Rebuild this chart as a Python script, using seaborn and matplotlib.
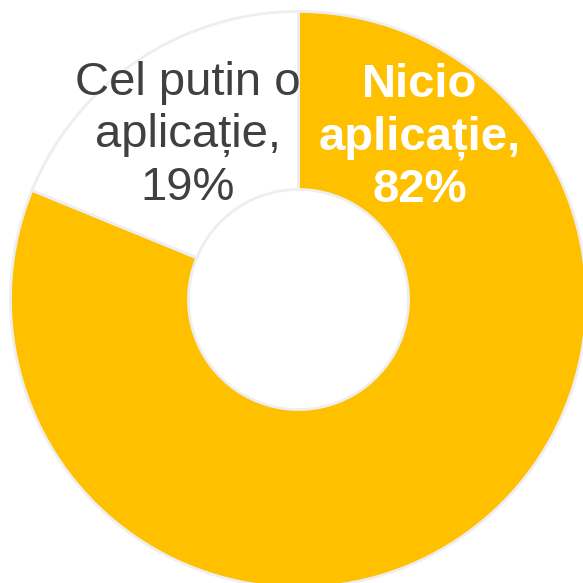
import matplotlib
matplotlib.use("Agg")
import matplotlib.pyplot as plt
import seaborn as sns

categories = ["Nicio\naplicație", "Cel putin o\naplicație"]
values = [82, 19]
colors = ["#FFC000", "#FFFFFF"]
label_colors = ["#FFFFFF", "#404040"]
label_weights = ["bold", "normal"]

sns.set_theme(style="white")
plt.rcParams["font.family"] = ["Liberation Sans", "DejaVu Sans"]

fig = plt.figure(figsize=(5.83, 5.83), dpi=100)
ax = fig.add_axes([0, 0, 1, 1])
wedges, _ = ax.pie(values, colors=colors, startangle=90, counterclock=False,
                   radius=1.0,
                   wedgeprops=dict(width=0.618, edgecolor="#EEEEEE", linewidth=2.0))
ax.set_xlim(-298.5 / 288, (583 - 298.5) / 288)
ax.set_ylim(-(583 - 299.5) / 288, 299.5 / 288)
ax.set_aspect("auto")
ax.axis("off")

label_pos = [(0.42, 0.562), (-0.384, 0.571)]
for cat, val, (x, y), c, w in zip(categories, values, label_pos, label_colors, label_weights):
    ax.text(x, y, f"{cat},\n{val}%", ha="center", va="center", multialignment="center",
            fontsize=34, color=c, fontweight=w, linespacing=1.25)

fig.savefig("out.png", dpi=100)
